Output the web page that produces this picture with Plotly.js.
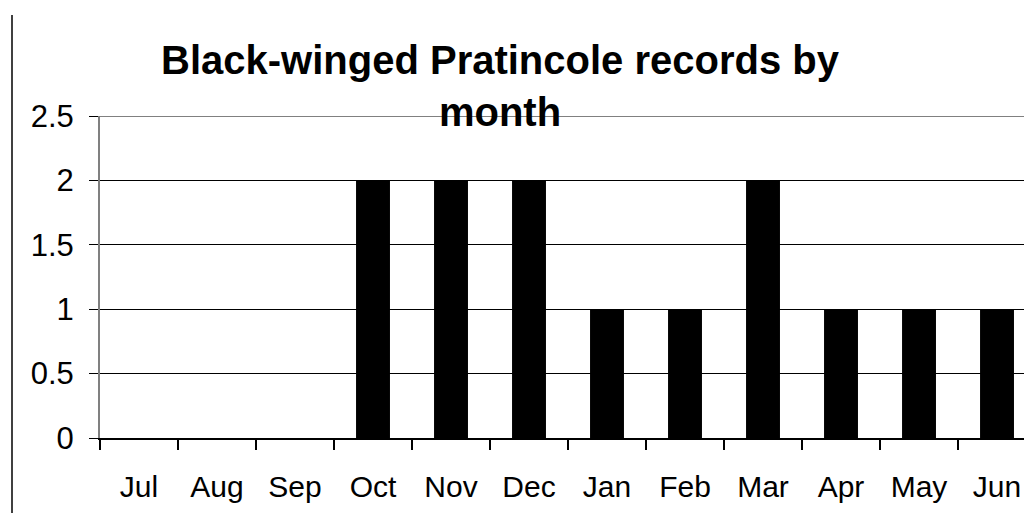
<!DOCTYPE html>
<html>
<head>
<meta charset="utf-8">
<script src="https://cdn.plot.ly/plotly-3.0.1.min.js"></script>
<style>html,body{margin:0;padding:0;background:#fff;}#chart{width:1024px;height:513px;}</style>
</head>
<body>
<div id="chart"></div>
<script>
const months = ["Jul","Aug","Sep","Oct","Nov","Dec","Jan","Feb","Mar","Apr","May","Jun"];
const records = [0,0,0,2,2,2,1,1,2,1,1,1];
const yTicks = [0,0.5,1,1.5,2,2.5];
const yTickText = ["0","0.5","1","1.5","2","2.5"];
const chartTitle = "Black-winged Pratincole records by<br>month";

const trace = {
  type: "bar",
  x: months,
  y: records,
  marker: {color: "#000000", line: {width: 0}},
  hoverinfo: "skip"
};

const layout = {
  width: 1024, height: 513,
  margin: {l: 100, r: 0, t: 116, b: 75, pad: 0},
  paper_bgcolor: "#ffffff",
  plot_bgcolor: "#ffffff",
  bargap: 0.565,
  showlegend: false,
  font: {family: "Arial, Liberation Sans, sans-serif", color: "#000"},
  title: {
    text: chartTitle,
    font: {family: "Arial, Liberation Sans, sans-serif", size: 40, color: "#000", weight: "bold"},
    xref: "container", yref: "container",
    x: 500/1024, xanchor: "center",
    y: 1 - 74/513, yanchor: "top"
  },
  xaxis: {
    type: "category",
    range: [-0.5, 11.346],
    showgrid: false,
    showline: true, linecolor: "#000", linewidth: 1.5,
    ticks: "outside", tickson: "boundaries", ticklen: 10, tickcolor: "#000", tickwidth: 1.5,
    tickfont: {family: "Arial, Liberation Sans, sans-serif", size: 30, color: "#000"},
    ticklabelstandoff: 21,
    zeroline: false, fixedrange: true
  },
  yaxis: {
    range: [0, 2.5],
    tickvals: yTicks, ticktext: yTickText,
    showgrid: true, gridcolor: "#000", gridwidth: 1,
    showline: true, linecolor: "#808080", linewidth: 2,
    ticks: "outside", ticklen: 9, tickcolor: "#000", tickwidth: 1,
    tickfont: {family: "Arial, Liberation Sans, sans-serif", size: 31, color: "#000"},
    ticklabelstandoff: 9,
    zeroline: false, fixedrange: true
  },
  shapes: [
    {type: "line", xref: "paper", yref: "y", x0: 0, x1: 1, y0: 2.5, y1: 2.5,
     line: {color: "#808080", width: 2}, layer: "above"},
    {type: "line", xref: "paper", yref: "paper", x0: -88/924, x1: -88/924, y0: 1 + 101/322, y1: -75/322,
     line: {color: "#000", width: 1.5}}
  ]
};

Plotly.newPlot("chart", [trace], layout, {staticPlot: true, displayModeBar: false});
</script>
</body>
</html>
